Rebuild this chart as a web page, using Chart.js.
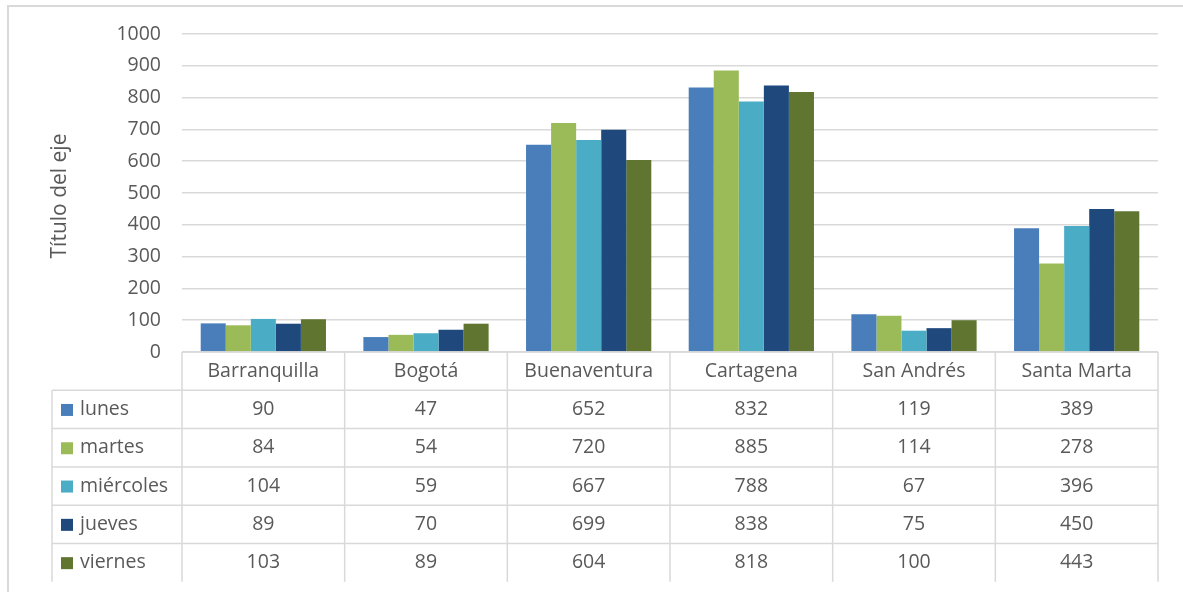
<!DOCTYPE html>
<html>
<head>
<meta charset="utf-8">
<script src="https://cdn.jsdelivr.net/npm/chart.js@4.4.1/dist/chart.umd.min.js"></script>
<style>
  html, body { margin: 0; padding: 0; background: #fff; }
  #wrap { width: 1183px; height: 592px; }
</style>
</head>
<body>
<div id="wrap"><canvas id="barChart" width="1183" height="592"></canvas></div>
<script>
// data
const cities = ["Barranquilla", "Bogotá", "Buenaventura", "Cartagena", "San Andrés", "Santa Marta"];
const lunes = [90, 47, 652, 832, 119, 389];
const martes = [84, 54, 720, 885, 114, 278];
const miercoles = [104, 59, 667, 788, 67, 396];
const jueves = [89, 70, 699, 838, 75, 450];
const viernes = [103, 89, 604, 818, 100, 443];
const seriesNames = ["lunes", "martes", "miércoles", "jueves", "viernes"];
const seriesColors = ["#4a7ebb", "#9bbb59", "#4bacc6", "#1f497d", "#5f7530"];
const yTicks = [0, 100, 200, 300, 400, 500, 600, 700, 800, 900, 1000];
const axisTitle = "Título del eje";

const FONT = "'Open Sans', sans-serif";
const TXT = "#595959";
const LINE = "#d9d9d9";

const allSeries = [lunes, martes, miercoles, jueves, viernes];

// draws the outer frame, axis title and the data table under the plot
const tablePlugin = {
  id: "dataTable",
  afterDraw(chart) {
    const ctx = chart.ctx;
    const x = chart.scales.x;
    const area = chart.chartArea;
    const colW = (area.right - area.left) / cities.length;
    const rowH = 38.3;
    const top = area.bottom;
    const legLeft = 52;

    ctx.save();
    // outer frame
    ctx.strokeStyle = LINE;
    ctx.lineWidth = 2;
    ctx.beginPath();
    ctx.moveTo(8, 600);
    ctx.lineTo(8, 6);
    ctx.lineTo(1183, 6);
    ctx.stroke();

    // axis title
    ctx.fillStyle = TXT;
    ctx.font = "21px " + FONT;
    ctx.textAlign = "center";
    ctx.textBaseline = "middle";
    ctx.translate(60, 196);
    ctx.rotate(-Math.PI / 2);
    ctx.fillText(axisTitle, 0, 0);
    ctx.setTransform(1, 0, 0, 1, 0, 0);

    // table lines
    ctx.strokeStyle = LINE;
    ctx.lineWidth = 1.5;
    ctx.beginPath();
    ctx.moveTo(area.left, top);
    ctx.lineTo(area.right, top);
    for (let r = 1; r <= allSeries.length; r++) {
      ctx.moveTo(legLeft, top + r * rowH);
      ctx.lineTo(area.right, top + r * rowH);
    }
    const bottom = top + (allSeries.length + 1) * rowH;
    ctx.moveTo(legLeft, top + rowH);
    ctx.lineTo(legLeft, bottom);
    for (let c = 0; c <= cities.length; c++) {
      const cx = area.left + c * colW;
      ctx.moveTo(cx, top);
      ctx.lineTo(cx, bottom);
    }
    ctx.stroke();

    // header labels
    ctx.fillStyle = TXT;
    ctx.font = "19.5px " + FONT;
    ctx.textAlign = "center";
    ctx.textBaseline = "middle";
    cities.forEach((name, i) => {
      ctx.fillText(name, x.getPixelForValue(i), top + rowH / 2);
    });

    // rows
    allSeries.forEach((vals, r) => {
      const cy = top + (r + 1.5) * rowH;
      ctx.fillStyle = seriesColors[r];
      ctx.fillRect(61, cy - 5.5, 12, 12);
      ctx.fillStyle = TXT;
      ctx.textAlign = "left";
      ctx.fillText(seriesNames[r], 80, cy);
      ctx.textAlign = "center";
      vals.forEach((v, i) => {
        ctx.fillText(String(v), x.getPixelForValue(i), cy);
      });
    });
    ctx.restore();
  }
};

const ctx = document.getElementById("barChart").getContext("2d");
new Chart(ctx, {
  type: "bar",
  data: {
    labels: cities,
    datasets: allSeries.map((vals, i) => ({
      label: seriesNames[i],
      data: vals,
      backgroundColor: seriesColors[i],
      categoryPercentage: 0.77,
      barPercentage: 1.0
    }))
  },
  options: {
    responsive: false,
    animation: false,
    layout: { padding: { top: 34, right: 25, bottom: 240, left: 0 } },
    plugins: {
      legend: { display: false },
      tooltip: { enabled: false }
    },
    scales: {
      x: {
        ticks: { display: false },
        grid: { display: false },
        border: { display: false },
        afterFit: (s) => { s.height = 0; }
      },
      y: {
        min: 0,
        max: 1000,
        afterBuildTicks: (s) => { s.ticks = yTicks.map(v => ({ value: v })); },
        afterFit: (s) => { s.width = 182; },
        ticks: {
          color: TXT,
          font: { family: FONT, size: 19.5 },
          padding: 21,
          callback: (v) => String(v)
        },
        grid: { color: LINE, lineWidth: 1.5, drawTicks: false },
        border: { display: false }
      }
    }
  },
  plugins: [tablePlugin]
});
</script>
</body>
</html>
